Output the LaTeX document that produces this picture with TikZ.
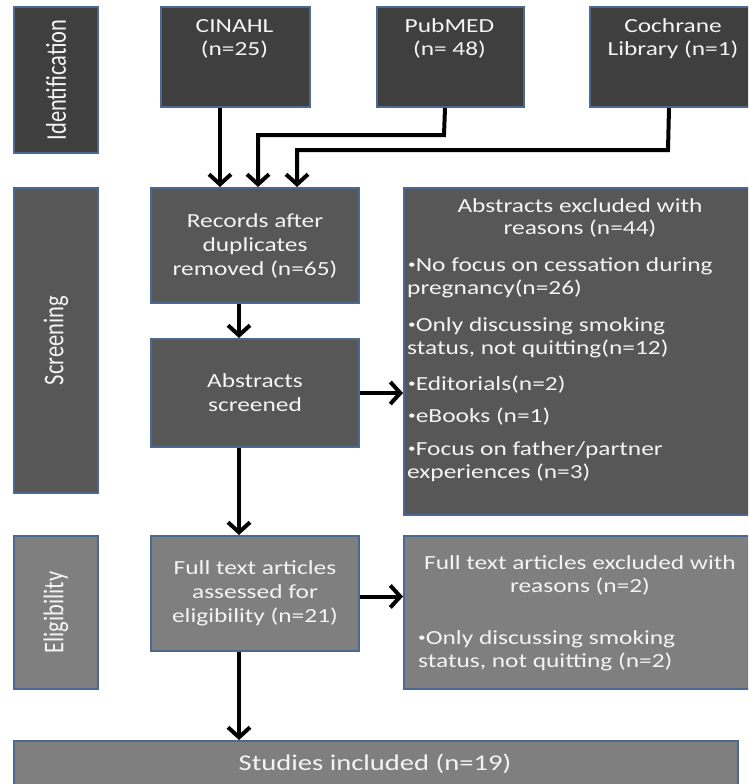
\documentclass[tikz,border=0pt]{standalone}
\usepackage{fontspec}
\setmainfont{Carlito}[FakeStretch=1.27]
\newfontfamily\labfont{Carlito}
\usepackage{graphicx}
\usetikzlibrary{arrows.meta}
\definecolor{cA}{HTML}{3F3F3F}
\definecolor{cB}{HTML}{575757}
\definecolor{cC}{HTML}{7F7F7F}
\definecolor{bord}{RGB}{75,105,145}
\definecolor{txtw}{HTML}{F4F4F4}
\tikzset{
  box/.style={draw=bord, line width=2pt, inner sep=0pt, anchor=north west},
  txt/.style={text=txtw, inner sep=0pt, align=center, font=\fontsize{20}{24}\selectfont},
  ltxt/.style={text=txtw, inner sep=0pt, anchor=base west, font=\fontsize{20}{24}\selectfont},
  ctxt/.style={text=txtw, inner sep=0pt, anchor=base, font=\fontsize{20}{24}\selectfont},
  arr/.style={line width=4pt, -{Straight Barb[length=10pt,width=22pt]}},
}
\newcommand{\vlab}[1]{\rotatebox{90}{\scalebox{1}[1.27]{\labfont\fontsize{22.5}{26}\selectfont #1}}}
\newcommand{\smb}{\raisebox{2.6pt}{\scalebox{0.6}{•}}}
\begin{document}
\begin{tikzpicture}[x=1pt,y=-1pt]
\useasboundingbox (0,0) rectangle (748,784);
\clip (0,0) rectangle (748,784);
\fill[white] (0,0) rectangle (748,784);

% stage labels
\node[box, fill=cA, minimum width=84pt, minimum height=146pt, text=txtw] (idl) at (13,6) {\vlab{Identification}};
\node[box, fill=cB, minimum width=84pt, minimum height=305pt, text=txtw] (scl) at (13,187) {\vlab{Screening}};
\node[box, fill=cC, minimum width=84pt, minimum height=153pt, text=txtw] (ell) at (13,535) {\vlab{Eligibility}};

% identification sources
\node[box, fill=cA, minimum width=149pt, minimum height=100pt] (cin) at (160,6) {};
\node[box, fill=cA, minimum width=147pt, minimum height=100pt] (pub) at (376,6) {};
\node[box, fill=cA, minimum width=168pt, minimum height=100pt] (coc) at (589,6) {};
\node[ctxt] (cin1) at (234.5,33) {CINAHL};
\node[ctxt] (cin2) at (234.5,56) {(n=25)};
\node[ctxt] (pub1) at (449.5,33) {PubMED};
\node[ctxt] (pub2) at (449.5,56) {(n= 48)};
\node[ctxt] (coc1) at (673,33) {Cochrane};
\node[ctxt] (coc2) at (673,56) {Library (n=1)};

% screening
\node[box, fill=cB, minimum width=208pt, minimum height=115pt] (rec) at (150,187) {};
\node[txt] (rect) at (rec.center) {Records after\\duplicates\\removed (n=65)};
\node[box, fill=cB, minimum width=208pt, minimum height=108pt] (abs) at (150,338) {};
\node[txt] (abst) at (abs.center) {Abstracts\\screened};
\node[box, fill=cB, minimum width=354pt, minimum height=327pt] (exa) at (403,187) {};
\node[ctxt] (exa1) at (580,212) {Abstracts excluded with};
\node[ctxt] (exa2) at (580,234) {reasons (n=44)};
\node[ltxt] (exa3) at (408,271) {\smb No focus on cessation during};
\node[ltxt] (exa4) at (407,294) {pregnancy(n=26)};
\node[ltxt] (exa5) at (408,331) {\smb Only discussing smoking};
\node[ltxt] (exa6) at (407,354) {status, not quitting(n=12)};
\node[ltxt] (exa7) at (408,390) {\smb Editorials(n=2)};
\node[ltxt] (exa8) at (408,422) {\smb eBooks (n=1)};
\node[ltxt] (exa9) at (408,455) {\smb Focus on father/partner};
\node[ltxt] (exa10) at (407,478) {experiences (n=3)};

% eligibility
\node[box, fill=cC, minimum width=208pt, minimum height=115pt] (ful) at (150,535) {};
\node[txt] (fult) at (ful.center) {Full text articles\\assessed for\\eligibility (n=21)};
\node[box, fill=cC, minimum width=354pt, minimum height=153pt] (exf) at (403,535) {};
\node[ctxt] (exf1) at (580,569) {Full text articles excluded with};
\node[ctxt] (exf2) at (580,592) {reasons (n=2)};
\node[ltxt] (exf3) at (418,644) {\smb Only discussing smoking};
\node[ltxt] (exf4) at (418,667) {status, not quitting (n=2)};

% included
\node[box, fill=cC, minimum width=724pt, minimum height=52pt] (inc) at (13,740) {};
\node[txt, font=\fontsize{22.5}{26}\selectfont] (inct) at (375,764) {Studies included (n=19)};

% connectors
\coordinate (p1) at (444,135);
\coordinate (p2) at (258,135);
\coordinate (q1) at (668,150);
\coordinate (q2) at (297,150);
\draw[arr] ([xshift=-15.5pt]cin.south) -- ([xshift=-35pt]rec.north);
\draw[arr] ([xshift=-5.5pt]pub.south) -- (p1) -- (p2) -- (p2 |- rec.north);
\draw[arr] ([xshift=-5pt]coc.south) -- (q1) -- (q2) -- (q2 |- rec.north);
\draw[arr] ([xshift=-16pt]rec.south) -- ([xshift=-16pt]abs.north);
\draw[arr] (abs.east) -- (abs.east -| exa.west);
\draw[arr] ([xshift=-16pt]abs.south) -- ([xshift=-16pt]ful.north);
\draw[arr] ([yshift=-3pt]ful.east) -- ([yshift=-3pt]ful.east -| exf.west);
\draw[arr] ([xshift=-16pt]ful.south) -- ([xshift=-16pt]ful.south |- inc.north);
\end{tikzpicture}
\end{document}
